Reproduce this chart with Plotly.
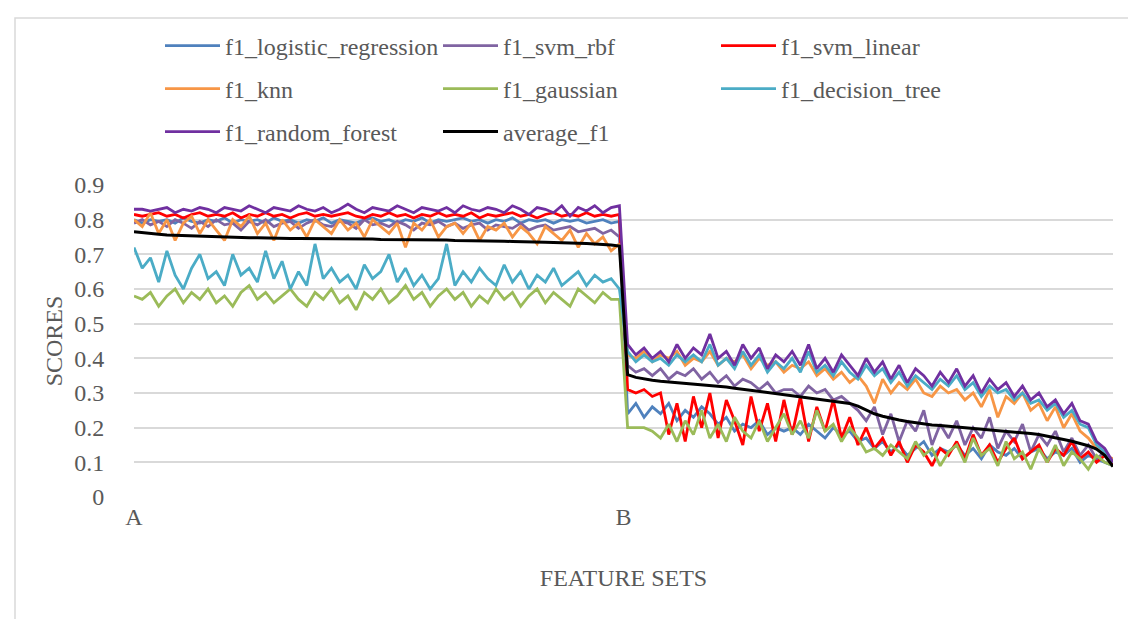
import plotly.graph_objects as go

# ---- data ----
tick_labels = ["A", "B"]

lr_L = [0.80,0.79,0.80,0.795,0.80,0.79,0.805,0.795,0.79,0.80,0.795,0.805,0.79,0.80,0.795,0.80,0.79,0.805,0.795,0.80,
        0.79,0.80,0.795,0.805,0.79,0.80,0.795,0.79,0.80,0.805,0.795,0.80,0.79,0.80,0.795,0.805,0.79,0.80,0.795,0.80,
        0.805,0.795,0.80,0.79,0.80,0.795,0.805,0.79,0.80,0.795,0.80,0.79,0.80,0.795,0.80,0.79,0.795,0.80,0.79,0.795]
lr_R = [0.24,0.27,0.23,0.26,0.24,0.27,0.22,0.25,0.23,0.26,0.24,0.21,0.23,0.19,0.21,0.20,0.22,0.18,0.20,0.19,
        0.20,0.18,0.21,0.19,0.17,0.20,0.18,0.19,0.16,0.17,0.14,0.16,0.13,0.15,0.12,0.14,0.16,0.12,0.14,0.13,
        0.15,0.12,0.14,0.11,0.15,0.13,0.12,0.14,0.11,0.13,0.14,0.11,0.13,0.12,0.14,0.10,0.12,0.11,0.10,0.09]

rbf_L = [0.79,0.80,0.785,0.795,0.78,0.80,0.79,0.775,0.795,0.78,0.80,0.785,0.79,0.77,0.795,0.785,0.80,0.78,0.79,0.795,
         0.775,0.79,0.80,0.785,0.78,0.795,0.79,0.775,0.80,0.785,0.79,0.78,0.795,0.785,0.77,0.79,0.785,0.795,0.78,0.79,
         0.775,0.785,0.79,0.77,0.785,0.78,0.775,0.79,0.77,0.78,0.785,0.77,0.775,0.78,0.765,0.77,0.775,0.76,0.77,0.75]
rbf_R = [0.38,0.36,0.37,0.35,0.37,0.34,0.36,0.35,0.37,0.34,0.36,0.33,0.35,0.32,0.34,0.33,0.31,0.33,0.30,0.31,
         0.31,0.29,0.32,0.30,0.31,0.28,0.29,0.27,0.25,0.22,0.26,0.18,0.24,0.16,0.22,0.19,0.25,0.15,0.21,0.17,
         0.22,0.15,0.20,0.17,0.23,0.14,0.19,0.16,0.21,0.13,0.18,0.15,0.19,0.13,0.17,0.12,0.15,0.11,0.13,0.09]

sl_L = [0.815,0.81,0.815,0.82,0.81,0.815,0.805,0.815,0.82,0.81,0.815,0.81,0.82,0.805,0.815,0.81,0.82,0.81,0.815,0.805,
        0.815,0.82,0.81,0.815,0.81,0.815,0.82,0.81,0.805,0.815,0.81,0.82,0.81,0.815,0.805,0.815,0.81,0.82,0.81,0.815,
        0.81,0.82,0.805,0.815,0.81,0.815,0.82,0.81,0.815,0.805,0.815,0.82,0.81,0.815,0.81,0.82,0.81,0.815,0.81,0.815]
sl_R = [0.31,0.30,0.31,0.29,0.30,0.18,0.27,0.16,0.29,0.20,0.30,0.17,0.28,0.22,0.15,0.29,0.19,0.27,0.16,0.28,
        0.18,0.29,0.16,0.26,0.19,0.28,0.17,0.23,0.15,0.20,0.14,0.17,0.12,0.16,0.10,0.15,0.13,0.09,0.14,0.12,
        0.16,0.11,0.18,0.12,0.15,0.10,0.14,0.17,0.11,0.13,0.15,0.10,0.14,0.12,0.16,0.11,0.13,0.10,0.12,0.09]

knn_L = [0.80,0.78,0.82,0.76,0.80,0.74,0.79,0.81,0.76,0.80,0.77,0.74,0.80,0.78,0.81,0.76,0.79,0.74,0.80,0.77,
         0.79,0.75,0.80,0.78,0.76,0.80,0.77,0.79,0.75,0.80,0.78,0.76,0.79,0.72,0.79,0.77,0.80,0.75,0.78,0.79,
         0.76,0.79,0.74,0.78,0.77,0.79,0.75,0.78,0.76,0.73,0.78,0.76,0.74,0.77,0.72,0.76,0.73,0.75,0.71,0.73]
knn_R = [0.41,0.40,0.42,0.39,0.41,0.40,0.42,0.38,0.40,0.39,0.42,0.38,0.40,0.39,0.41,0.37,0.40,0.38,0.39,0.36,
         0.38,0.37,0.39,0.35,0.37,0.34,0.36,0.33,0.35,0.32,0.27,0.34,0.30,0.33,0.31,0.34,0.30,0.29,0.32,0.30,
         0.31,0.28,0.30,0.26,0.31,0.23,0.29,0.27,0.30,0.25,0.27,0.22,0.26,0.20,0.24,0.19,0.17,0.14,0.12,0.11]

ga_L = [0.58,0.57,0.59,0.55,0.58,0.60,0.56,0.59,0.57,0.60,0.56,0.58,0.55,0.59,0.61,0.57,0.59,0.56,0.58,0.60,
        0.57,0.55,0.59,0.57,0.60,0.56,0.58,0.54,0.59,0.57,0.60,0.56,0.58,0.61,0.57,0.59,0.55,0.58,0.60,0.57,
        0.59,0.55,0.58,0.56,0.60,0.57,0.59,0.55,0.58,0.60,0.56,0.59,0.57,0.55,0.60,0.58,0.56,0.59,0.57,0.57]
ga_R = [0.20,0.20,0.20,0.19,0.17,0.21,0.16,0.22,0.18,0.25,0.17,0.21,0.16,0.23,0.19,0.17,0.22,0.16,0.20,0.24,
        0.18,0.22,0.17,0.25,0.19,0.21,0.16,0.20,0.17,0.13,0.14,0.12,0.15,0.13,0.11,0.16,0.12,0.14,0.09,0.13,
        0.15,0.10,0.17,0.12,0.14,0.09,0.16,0.11,0.13,0.08,0.14,0.10,0.15,0.09,0.13,0.11,0.08,0.12,0.10,0.09]

dt_L = [0.72,0.66,0.69,0.62,0.71,0.64,0.60,0.66,0.70,0.63,0.65,0.61,0.70,0.64,0.66,0.62,0.71,0.63,0.68,0.60,
        0.65,0.61,0.73,0.63,0.66,0.62,0.64,0.60,0.67,0.63,0.65,0.70,0.62,0.66,0.61,0.64,0.60,0.63,0.73,0.61,
        0.65,0.62,0.66,0.63,0.61,0.67,0.62,0.65,0.60,0.64,0.62,0.66,0.61,0.63,0.65,0.61,0.64,0.62,0.63,0.60]
dt_R = [0.42,0.39,0.41,0.39,0.40,0.38,0.41,0.39,0.41,0.39,0.44,0.38,0.40,0.37,0.42,0.38,0.41,0.36,0.39,0.37,
        0.40,0.36,0.42,0.36,0.38,0.35,0.39,0.36,0.34,0.38,0.35,0.37,0.33,0.36,0.32,0.35,0.33,0.31,0.34,0.32,
        0.35,0.31,0.33,0.29,0.32,0.30,0.31,0.28,0.30,0.27,0.28,0.25,0.27,0.23,0.25,0.21,0.20,0.15,0.13,0.10]

rf_L = [0.83,0.83,0.825,0.83,0.835,0.82,0.83,0.825,0.835,0.83,0.82,0.835,0.83,0.825,0.84,0.83,0.82,0.835,0.83,0.825,
        0.84,0.83,0.825,0.835,0.82,0.83,0.845,0.83,0.82,0.835,0.83,0.825,0.84,0.83,0.82,0.835,0.83,0.825,0.835,0.82,
        0.84,0.83,0.825,0.835,0.83,0.82,0.84,0.83,0.815,0.835,0.83,0.82,0.84,0.81,0.835,0.825,0.84,0.82,0.835,0.84]
rf_R = [0.44,0.41,0.43,0.40,0.42,0.39,0.44,0.40,0.43,0.41,0.47,0.40,0.42,0.38,0.44,0.40,0.43,0.37,0.41,0.39,
        0.42,0.38,0.44,0.37,0.40,0.36,0.41,0.38,0.35,0.40,0.36,0.39,0.34,0.38,0.33,0.37,0.35,0.32,0.36,0.33,
        0.37,0.32,0.35,0.30,0.34,0.31,0.33,0.29,0.32,0.28,0.30,0.26,0.28,0.24,0.27,0.22,0.21,0.16,0.14,0.10]

avg_L = [0.765,0.762,0.76,0.758,0.756,0.755,0.754,0.753,0.752,0.751,0.75,0.75,0.749,0.749,0.748,0.748,0.747,0.747,0.747,0.746,
         0.746,0.746,0.745,0.745,0.745,0.745,0.744,0.744,0.744,0.744,0.743,0.743,0.743,0.742,0.742,0.742,0.741,0.741,0.741,0.74,
         0.74,0.74,0.739,0.739,0.738,0.738,0.737,0.737,0.736,0.736,0.735,0.734,0.734,0.733,0.732,0.731,0.73,0.729,0.727,0.724]
avg_R = [0.353,0.345,0.34,0.337,0.334,0.332,0.33,0.328,0.326,0.325,0.323,0.32,0.317,0.314,0.311,0.308,0.305,0.302,0.298,0.294,
         0.291,0.288,0.285,0.282,0.279,0.276,0.273,0.27,0.262,0.252,0.24,0.233,0.227,0.222,0.218,0.214,0.211,0.208,0.206,0.204,
         0.202,0.2,0.198,0.197,0.195,0.193,0.191,0.189,0.186,0.183,0.18,0.176,0.171,0.166,0.161,0.155,0.148,0.138,0.12,0.088]

series = [
    ("f1_logistic_regression", lr_L + lr_R, "#4F81BD", 2.8, "legend"),
    ("f1_svm_rbf", rbf_L + rbf_R, "#8064A2", 2.8, "legend"),
    ("f1_svm_linear", sl_L + sl_R, "#FF0000", 2.8, "legend"),
    ("f1_knn", knn_L + knn_R, "#F79646", 2.8, "legend2"),
    ("f1_gaussian", ga_L + ga_R, "#9BBB59", 2.8, "legend2"),
    ("f1_decision_tree", dt_L + dt_R, "#4BACC6", 2.8, "legend2"),
    ("f1_random_forest", rf_L + rf_R, "#7030A0", 2.8, "legend3"),
    ("average_f1", avg_L + avg_R, "#000000", 3, "legend3"),
]

n = len(lr_L) + len(lr_R)
xs = list(range(n))
half = len(lr_L)

fig = go.Figure()
for name, vals, color, w, lg in series:
    fig.add_trace(go.Scatter(x=xs, y=vals, mode="lines", name=name,
                             line=dict(color=color, width=w), legend=lg))

ff = "Liberation Serif"
fs = 24
txt = "#595959"
W, H = 1136, 619
ml, mr, mt, mb = 126, 31, 177, 130

legend_common = dict(orientation="h", xanchor="left", yanchor="middle",
                     font=dict(family=ff, size=fs, color=txt),
                     bgcolor="rgba(0,0,0,0)", entrywidth=208, entrywidthmode="pixels",
                     itemwidth=55, tracegroupgap=0)
plot_h = H - mt - mb
def py(pixel_y):
    return (H - mb - pixel_y) / plot_h
lx = (152 - ml) / (W - ml - mr)

fig.update_layout(
    width=W, height=H,
    margin=dict(l=ml, r=mr, t=mt, b=mb),
    paper_bgcolor="white", plot_bgcolor="white",
    font=dict(family=ff, color=txt, size=fs),
    legend=dict(x=lx, y=py(38), **legend_common),
    legend2=dict(x=lx, y=py(81), **legend_common),
    legend3=dict(x=lx, y=py(124), **legend_common),
    xaxis=dict(range=[0, n - 1], tickmode="array", tickvals=[0, half - 0.5], ticktext=tick_labels,
               showgrid=False, zeroline=False, showline=False,
               ticks="", ticklabelstandoff=3,
               tickfont=dict(family=ff, size=fs, color=txt),
               title=dict(text="FEATURE SETS", font=dict(family=ff, size=fs, color=txt), standoff=40)),
    yaxis=dict(range=[0, 0.9], tickmode="array", tickvals=[i / 10 for i in range(10)],
               ticktext=["0", "0.1", "0.2", "0.3", "0.4", "0.5", "0.6", "0.7", "0.8", "0.9"],
               showgrid=True, gridcolor="#D9D9D9", gridwidth=2, zeroline=False, showline=False,
               ticks="outside", ticklen=24, tickcolor="rgba(0,0,0,0)",
               tickfont=dict(family=ff, size=fs, color=txt),
               title=dict(text="SCORES", font=dict(family=ff, size=fs, color=txt), standoff=4)),
    showlegend=True,
    shapes=[dict(type="rect", xref="paper", yref="paper",
                 x0=(7 - ml) / (W - ml - mr), x1=(1160 - ml) / (W - ml - mr),
                 y0=py(640), y1=py(10), line=dict(color="#D9D9D9", width=1.5), fillcolor="rgba(0,0,0,0)",
                 layer="below")],
)

fig.write_html("out.html")
